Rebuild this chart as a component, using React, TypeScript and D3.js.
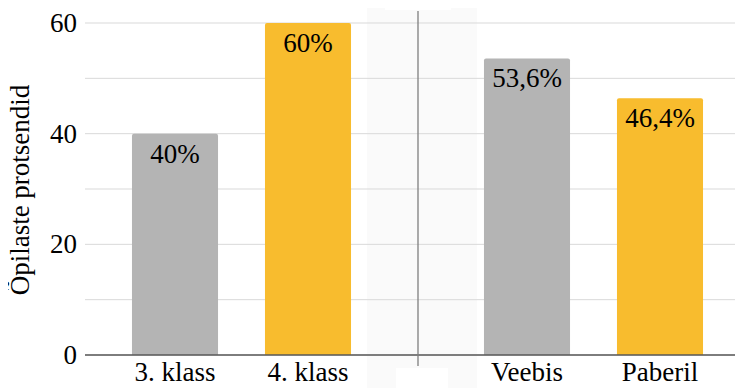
import React from "react";
import * as d3 from "d3";

const groupA = ["3. klass", "4. klass"];
const valuesA = [40, 60];
const labelsA = ["40%", "60%"];
const groupB = ["Veebis", "Paberil"];
const valuesB = [53.6, 46.4];
const labelsB = ["53,6%", "46,4%"];
const colors = ["#b4b4b4", "#f8bc2e"];
const yTicks = [0, 20, 40, 60];
const gridTicks = [0, 10, 20, 30, 40, 50, 60];

const W = 743;
const H = 388;
const FS = 27;
const SERIF = "Liberation Serif";

export default function App() {
  const y = d3.scaleLinear().domain([0, 60]).range([355, 23]);
  const xA = d3.scaleBand().domain(groupA).range([108.5, 374.5]).paddingInner(0.353).paddingOuter(0.1765);
  const xB = d3.scaleBand().domain(groupB).range([460.5, 726.5]).paddingInner(0.353).paddingOuter(0.1765);
  const plotLeft = 85;
  const divider = 418;

  const bars = [
    ...groupA.map((c, i) => ({ c, v: valuesA[i], l: labelsA[i], x: xA(c)!, w: xA.bandwidth(), color: colors[i] })),
    ...groupB.map((c, i) => ({ c, v: valuesB[i], l: labelsB[i], x: xB(c)!, w: xB.bandwidth(), color: colors[i] })),
  ];

  return (
    <svg width={W} height={H} fontFamily={SERIF} style={{ display: "block", margin: "-8px 0 0 -8px" }}>
      {/* faint band behind the divider */}
      <rect x={367} y={0} width={110} height={H} fill="#fafafa" />
      <rect x={385} y={0} width={66} height={10} fill="#fff" />
      <rect x={396} y={368} width={52} height={20} fill="#fff" />

      {gridTicks.map((t) => (
        <line key={t} x1={plotLeft} x2={W} y1={y(t)} y2={y(t)} stroke="#d9d9d9" strokeWidth={1} />
      ))}

      {bars.map((b) => (
        <path
          key={"bar" + b.c}
          d={`M${b.x},${y(0)}V${y(b.v) + 2}Q${b.x},${y(b.v)} ${b.x + 2},${y(b.v)}H${b.x + b.w - 2}Q${b.x + b.w},${y(b.v)} ${b.x + b.w},${y(b.v) + 2}V${y(0)}Z`}
          fill={b.color}
        />
      ))}

      <line x1={plotLeft} x2={W} y1={y(0)} y2={y(0)} stroke="#595959" strokeWidth={1.3} />
      <line x1={divider} x2={divider} y1={11} y2={366} stroke="#7f7f7f" strokeWidth={1.3} />

      {bars.map((b) => (
        <text key={"v" + b.c} x={b.x + b.w / 2} y={y(b.v) + 29} textAnchor="middle" fontFamily={SERIF} fontSize={FS}>
          {b.l}
        </text>
      ))}
      {bars.map((b) => (
        <text key={"c" + b.c} x={b.x + b.w / 2} y={381} textAnchor="middle" fontFamily={SERIF} fontSize={FS}>
          {b.c}
        </text>
      ))}

      {yTicks.map((t) => (
        <text key={t} x={77} y={y(t) + 9} textAnchor="end" fontFamily={SERIF} fontSize={FS}>
          {t}
        </text>
      ))}

      <text transform={`translate(29,190) rotate(-90)`} textAnchor="middle" fontFamily={SERIF} fontSize={FS}>
        Õpilaste protsendid
      </text>
    </svg>
  );
}
